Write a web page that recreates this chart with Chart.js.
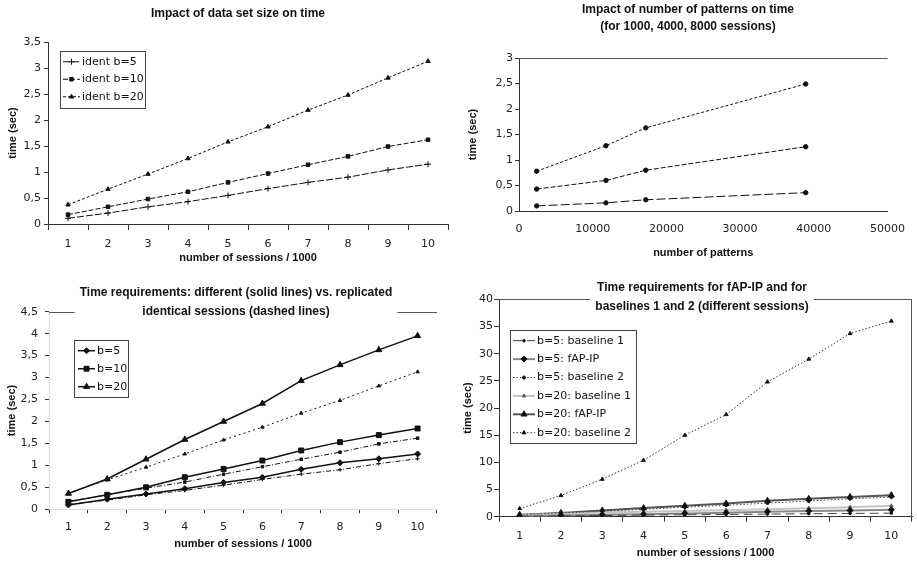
<!DOCTYPE html>
<html>
<head>
<meta charset="utf-8">
<title>Time requirements</title>
<script src="https://cdn.jsdelivr.net/npm/chart.js@4.4.1/dist/chart.umd.min.js"></script>
<style>
  body { margin: 0; background: #fff; }
  #page { position: relative; width: 917px; height: 561px; overflow: hidden; }
  canvas { position: absolute; }
</style>
</head>
<body>
<div id="page">
  <canvas id="c1" width="460" height="268" style="left:0;top:0"></canvas>
  <canvas id="c2" width="457" height="268" style="left:460px;top:0"></canvas>
  <canvas id="c3" width="460" height="293" style="left:0;top:268px"></canvas>
  <canvas id="c4" width="457" height="293" style="left:460px;top:268px"></canvas>
</div>
<script>
// ---- data ----
const sessions = ['1', '2', '3', '4', '5', '6', '7', '8', '9', '10'];

// identical (replicated) sessions
const identB5 = [0.11, 0.21, 0.33, 0.43, 0.55, 0.68, 0.80, 0.90, 1.04, 1.15];
const identB10 = [0.18, 0.33, 0.48, 0.62, 0.80, 0.97, 1.14, 1.30, 1.49, 1.62];
const identB20 = [0.37, 0.67, 0.96, 1.26, 1.58, 1.87, 2.19, 2.48, 2.81, 3.13];

// different sessions (fAP-IP)
const diffB5 = [0.10, 0.23, 0.35, 0.47, 0.61, 0.73, 0.91, 1.06, 1.15, 1.26];
const diffB10 = [0.17, 0.33, 0.50, 0.73, 0.92, 1.11, 1.34, 1.53, 1.69, 1.84];
const diffB20 = [0.36, 0.69, 1.14, 1.59, 2.00, 2.41, 2.93, 3.29, 3.63, 3.95];

// baselines
const b5Base1 = [0.08, 0.15, 0.22, 0.30, 0.36, 0.42, 0.48, 0.55, 0.60, 0.65];
const b5Base2 = [0.35, 0.70, 1.00, 1.35, 1.75, 2.10, 2.50, 2.90, 3.30, 3.60];
const b20Base1 = [0.30, 0.55, 0.75, 0.90, 1.05, 1.20, 1.35, 1.55, 1.75, 2.00];
const b20Base2 = [1.5, 3.9, 6.9, 10.4, 15.0, 18.8, 24.8, 29.0, 33.7, 36.0];

// number of patterns
const patterns = [2400, 11800, 17200, 38900];
const pat1000 = [0.10, 0.16, 0.22, 0.36];
const pat4000 = [0.43, 0.60, 0.80, 1.26];
const pat8000 = [0.78, 1.28, 1.63, 2.49];

// ---- common look ----
const TICK_FONT = { family: '"DejaVu Sans", sans-serif', size: 11 };
const AXIS_FONT = { family: '"Liberation Sans", Arial, sans-serif', size: 11, weight: 'bold' };
Chart.defaults.animation = false;
Chart.defaults.color = '#222';

const comma = v => String(v).replace('.', ',');

function line(label, data, style) {
  return Object.assign({
    label, data,
    borderColor: '#111', backgroundColor: '#111',
    pointBackgroundColor: '#111', pointBorderColor: '#111',
    borderWidth: 1, pointBorderWidth: 1, pointRadius: 2.5,
    fill: false, tension: 0
  }, style);
}

// frame lines + title with white background (title may overlap the top frame)
const decor = {
  id: 'decor',
  beforeDatasetsDraw(chart, args, o) {
    const { ctx, chartArea: a } = chart;
    ctx.save();
    ctx.strokeStyle = '#555';
    ctx.lineWidth = 1;
    ctx.beginPath();
    if (o.frameTop) {
      const y = Math.round(a.top) + 0.5;
      ctx.moveTo(a.left, y); ctx.lineTo(a.right, y);
    }
    if (o.frameRight) {
      const x = Math.round(a.right) - 0.5;
      ctx.moveTo(x, a.top); ctx.lineTo(x, a.bottom);
    }
    ctx.stroke();

    ctx.font = 'bold 12px "Liberation Sans", Arial, sans-serif';
    ctx.textAlign = 'center';
    ctx.textBaseline = 'middle';
    const w = Math.max(...o.title.map(s => ctx.measureText(s).width));
    const h = o.titleLineHeight;
    ctx.fillStyle = '#fff';
    ctx.fillRect(o.titleX - w / 2 - 5, o.titleY - h / 2, w + 10, h * o.title.length);
    ctx.fillStyle = '#111';
    o.title.forEach((s, i) => ctx.fillText(s, o.titleX, o.titleY + i * h));
    ctx.restore();
  }
};

// legend in a box inside the plot area
const boxLegend = {
  id: 'boxLegend',
  afterDatasetsDraw(chart, args, o) {
    if (!o.show) return;
    const { ctx, chartArea: a } = chart;
    const items = chart.data.datasets.filter(d => !d.hideInLegend);
    ctx.save();
    ctx.font = '11px "DejaVu Sans", sans-serif';
    const textW = Math.max(...items.map(d => ctx.measureText(d.label).width));
    const x0 = Math.round(a.left + o.x), y0 = Math.round(a.top + o.y);
    const w = Math.round(o.padLeft + o.sample + o.gap + textW + o.padRight);
    const h = Math.round(o.padTop * 2 + items.length * o.row);
    ctx.fillStyle = '#fff';
    ctx.fillRect(x0, y0, w, h);
    ctx.strokeStyle = '#444';
    ctx.lineWidth = 1;
    ctx.strokeRect(x0 + 0.5, y0 + 0.5, w, h);
    items.forEach((d, i) => {
      const cy = y0 + o.padTop + o.row * (i + 0.5);
      const sx = x0 + o.padLeft;
      ctx.save();
      ctx.strokeStyle = d.borderColor;
      ctx.lineWidth = d.borderWidth;
      ctx.setLineDash(d.borderDash || []);
      ctx.beginPath(); ctx.moveTo(sx, cy); ctx.lineTo(sx + o.sample, cy); ctx.stroke();
      ctx.setLineDash([]);
      ctx.fillStyle = d.pointBackgroundColor;
      ctx.strokeStyle = d.pointBorderColor;
      ctx.lineWidth = 1;
      if (Chart.helpers && Chart.helpers.drawPoint) {
        Chart.helpers.drawPoint(ctx, { pointStyle: d.pointStyle || 'circle', radius: d.pointRadius, rotation: 0, borderWidth: 1 }, sx + o.sample / 2, cy);
      }
      ctx.restore();
      ctx.fillStyle = '#111';
      ctx.textAlign = 'left';
      ctx.textBaseline = 'middle';
      ctx.fillText(d.label, sx + o.sample + o.gap, cy);
    });
    ctx.restore();
  }
};

function yScale(o) {
  return {
    min: o.min, max: o.max,
    grid: { drawOnChartArea: false, tickLength: o.tick, color: o.tickColor || '#333' },
    border: { color: o.axisColor || '#333' },
    ticks: { stepSize: o.step, padding: o.pad, font: TICK_FONT, color: '#222', callback: o.fmt || (v => v) },
    title: { display: true, text: 'time (sec)', font: AXIS_FONT, color: '#111', padding: { top: o.titlePad, bottom: 0 } },
    afterFit: s => { s.width = o.width; }
  };
}

function xSessions(o) {
  return {
    type: 'category', offset: true,
    grid: { drawOnChartArea: false, offset: true, tickLength: o.tick, color: '#333' },
    border: { color: o.axisColor || '#333' },
    ticks: { padding: o.pad, font: TICK_FONT, color: '#222' },
    title: { display: true, text: 'number of sessions / 1000', font: AXIS_FONT, color: '#111', padding: { top: 0, bottom: o.titlePad } },
    afterFit: s => { s.height = o.height; }
  };
}

// ---- chart 1: impact of data set size ----
new Chart(document.getElementById('c1'), {
  type: 'line',
  data: {
    labels: sessions,
    datasets: [
      line('ident b=5', identB5, { borderDash: [7, 2], pointStyle: 'cross', pointRadius: 3 }),
      line('ident b=10', identB10, { borderDash: [5, 2], pointStyle: 'rect', pointRadius: 2.5 }),
      line('ident b=20', identB20, { borderDash: [3, 2], pointStyle: 'triangle', pointRadius: 2.5 })
    ]
  },
  options: {
    responsive: false,
    layout: { padding: { top: 42, right: 12, left: 0, bottom: 0 } },
    plugins: {
      legend: { display: false }, tooltip: { enabled: false },
      decor: { title: ['Impact of data set size on time'], titleX: 238, titleY: 14, titleLineHeight: 17 },
      boxLegend: { show: true, x: 12, y: 9, padLeft: 3, sample: 17, gap: 2, padRight: 1, padTop: 2, row: 17.5 }
    },
    scales: {
      x: xSessions({ tick: 6, pad: 8, titlePad: 3, height: 44 }),
      y: yScale({ min: 0, max: 3.5, step: 0.5, tick: 4, pad: 3, titlePad: 6, width: 48, fmt: comma })
    }
  },
  plugins: [decor, boxLegend]
});

// ---- chart 2: impact of number of patterns ----
const pts = ys => patterns.map((x, i) => ({ x, y: ys[i] }));
new Chart(document.getElementById('c2'), {
  type: 'line',
  data: {
    datasets: [
      line('1000 sessions', pts(pat1000), { borderDash: [9, 3], pointStyle: 'circle', pointRadius: 2.2 }),
      line('4000 sessions', pts(pat4000), { borderDash: [5, 2], pointStyle: 'circle', pointRadius: 2.2 }),
      line('8000 sessions', pts(pat8000), { borderDash: [3, 2], pointStyle: 'circle', pointRadius: 2.2 })
    ]
  },
  options: {
    responsive: false,
    layout: { padding: { top: 58, right: 22, left: 0, bottom: 0 } },
    plugins: {
      legend: { display: false }, tooltip: { enabled: false },
      decor: { frameTop: true, title: ['Impact of number of patterns on time', '(for 1000, 4000, 8000 sessions)'], titleX: 228, titleY: 10, titleLineHeight: 17 }
    },
    scales: {
      x: {
        type: 'linear', min: 0, max: 50000,
        grid: { drawOnChartArea: false, drawTicks: false },
        border: { color: '#333' },
        ticks: { stepSize: 10000, padding: 12, font: TICK_FONT, color: '#222', callback: v => v },
        title: { display: true, text: 'number of patterns', font: AXIS_FONT, color: '#111', padding: { top: 0, bottom: 8 } },
        afterFit: s => { s.height = 57; }
      },
      y: yScale({ min: 0, max: 3, step: 0.5, tick: 4, pad: 2, titlePad: 6, width: 59, fmt: comma })
    }
  },
  plugins: [decor]
});

// ---- chart 3: different vs. replicated identical sessions ----
new Chart(document.getElementById('c3'), {
  type: 'line',
  data: {
    labels: sessions,
    datasets: [
      line('b=5', diffB5, { borderWidth: 1.5, pointStyle: 'rectRot', pointRadius: 3 }),
      line('b=10', diffB10, { borderWidth: 1.5, pointStyle: 'rect', pointRadius: 3.5 }),
      line('b=20', diffB20, { borderWidth: 1.5, pointStyle: 'triangle', pointRadius: 3.5 }),
      line('b=5 identical', identB5, { hideInLegend: true, borderDash: [5, 2, 1, 2], pointStyle: 'cross', pointRadius: 2 }),
      line('b=10 identical', identB10, { hideInLegend: true, borderDash: [5, 2, 1, 2], pointStyle: 'rect', pointRadius: 1.8 }),
      line('b=20 identical', identB20, { hideInLegend: true, borderDash: [2, 3], pointStyle: 'triangle', pointRadius: 2 })
    ]
  },
  options: {
    responsive: false,
    layout: { padding: { top: 43.7, right: 23, left: 0, bottom: 0 } },
    plugins: {
      legend: { display: false }, tooltip: { enabled: false },
      decor: { frameTop: true, title: ['Time requirements: different (solid lines) vs. replicated', 'identical sessions (dashed lines)'], titleX: 236, titleY: 25, titleLineHeight: 19 },
      boxLegend: { show: true, x: 25, y: 28.3, padLeft: 4, sample: 17, gap: 2, padRight: 1, padTop: 1.7, row: 18 }
    },
    scales: {
      x: xSessions({ tick: 4, pad: 7, titlePad: 10, height: 51.7, axisColor: '#ddd' }),
      y: yScale({ min: 0, max: 4.5, step: 0.5, tick: 4, pad: 7, titlePad: 5, width: 49, fmt: comma, axisColor: '#ddd' })
    }
  },
  plugins: [decor, boxLegend]
});

// ---- chart 4: fAP-IP vs. baselines ----
new Chart(document.getElementById('c4'), {
  type: 'line',
  data: {
    labels: sessions,
    datasets: [
      line('b=5: baseline 1', b5Base1, { borderColor: '#444', borderDash: [9, 5], pointStyle: 'circle', pointRadius: 1.3 }),
      line('b=5: fAP-IP', diffB5, { borderColor: '#888', borderWidth: 2, pointStyle: 'rectRot', pointRadius: 3 }),
      line('b=5: baseline 2', b5Base2, { borderColor: '#444', borderDash: [1.5, 2], pointStyle: 'circle', pointRadius: 1.5 }),
      line('b=20: baseline 1', b20Base1, { borderColor: '#c4c4c4', borderWidth: 2, pointStyle: 'triangle', pointRadius: 2,
        pointBackgroundColor: '#555', pointBorderColor: '#555' }),
      line('b=20: fAP-IP', diffB20, { borderColor: '#555', borderWidth: 2, pointStyle: 'triangle', pointRadius: 3.5 }),
      line('b=20: baseline 2', b20Base2, { borderColor: '#333', borderDash: [1.5, 2], pointStyle: 'triangle', pointRadius: 2.2 })
    ]
  },
  options: {
    responsive: false,
    layout: { padding: { top: 31.3, right: 2, left: 0, bottom: 0 } },
    plugins: {
      legend: { display: false }, tooltip: { enabled: false },
      decor: { frameTop: true, frameRight: true, title: ['Time requirements for fAP-IP and for', 'baselines 1 and 2 (different sessions)'], titleX: 242, titleY: 20, titleLineHeight: 19 },
      boxLegend: { show: true, x: 11, y: 30.7, padLeft: 3, sample: 22, gap: 2, padRight: 5, padTop: 1.5, row: 18.4 }
    },
    scales: {
      x: xSessions({ tick: 5, pad: 8, titlePad: 1, height: 44.3 }),
      y: yScale({ min: 0, max: 40, step: 5, tick: 5, pad: 1, titlePad: 1, width: 39 })
    }
  },
  plugins: [decor, boxLegend]
});
</script>
</body>
</html>
